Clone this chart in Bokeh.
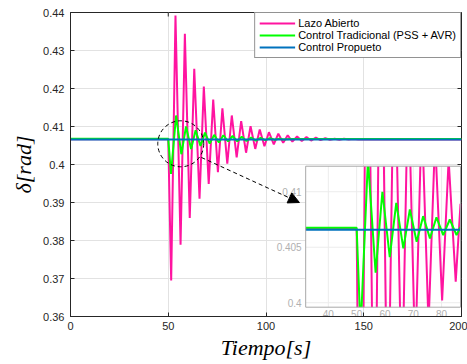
import numpy as np
from bokeh.plotting import figure
from bokeh.models import (Range1d, FixedTicker, Legend, LegendItem, Arrow, NormalHead)
from bokeh.core.properties import value
from bokeh.embed import file_html
from bokeh.resources import INLINE

# ---------------- data ----------------
t_lazo = [0, 50, 51.5, 53.7, 56.3, 58.5, 61.0, 63.3, 66.0, 68.2, 70.7, 73.0, 75.4, 77.7,
          80.2, 82.5, 85.0, 87.3, 89.8, 92.1, 94.5, 96.8, 99.2, 101.5, 104.0, 106.3,
          108.8, 111.1, 113.5, 115.9, 118.3, 120.7, 123.1, 125.5, 127.9, 130.3, 132.7,
          135.1, 137.5, 139.9, 142.3, 144.7, 147.1, 200]
y_lazo = [0.40665, 0.40665, 0.3695, 0.4392, 0.3789, 0.4344, 0.3859, 0.4252, 0.3910, 0.4205,
          0.3949, 0.4171, 0.3980, 0.4148, 0.4002, 0.4129, 0.4019, 0.4114, 0.4031, 0.4101,
          0.4041, 0.4092, 0.4048, 0.4085, 0.4053, 0.4081, 0.4057, 0.4077, 0.4060, 0.4074,
          0.4062, 0.4072, 0.4063, 0.4071, 0.4064, 0.4069, 0.4065, 0.4068, 0.4065, 0.4068,
          0.4066, 0.4067, 0.4066, 0.4066]

t_trad = [0, 50, 51.4, 54.0, 56.7, 59.1, 61.7, 64.0, 66.5, 68.8, 71.2, 73.5, 75.9, 78.2,
          80.6, 82.9, 85.3, 87.6, 90.0, 92.4, 94.8, 97.2, 99.6, 102.0, 104.4, 106.8,
          109.2, 112.0, 200]
y_trad = [0.40675, 0.40675, 0.3975, 0.4129, 0.4027, 0.4100, 0.4041, 0.4090, 0.4049, 0.4084,
          0.4055, 0.4078, 0.4058, 0.4077, 0.4061, 0.4075, 0.4061, 0.4073, 0.4062, 0.4071,
          0.4063, 0.4070, 0.4064, 0.4069, 0.4065, 0.4068, 0.4066, 0.4067, 0.4067]

t_prop = [0, 200]
y_prop = [0.40657, 0.40657]

series_names = ["Lazo Abierto", "Control Tradicional (PSS + AVR)", "Control Propueto"]
series_colors = ["#ff14a0", "#00ff00", "#0072bd"]

x_lim = [0, 200]
y_lim = [0.36, 0.44]
x_ticks = [0, 50, 100, 150, 200]
x_tick_labels = ["0", "50", "100", "150", "200"]
y_ticks = [0.36, 0.37, 0.38, 0.39, 0.40, 0.41, 0.42, 0.43, 0.44]
y_tick_labels = ["0.36", "0.37", "0.38", "0.39", "0.4", "0.41", "0.42", "0.43", "0.44"]

# inset (zoom) axes
inset_x_lim = [32.0, 86.7]
inset_y_lim = [0.3996, 0.4123]
inset_x_ticks = [40, 50, 60, 70, 80]
inset_x_labels = ["40", "50", "60", "70", "80"]
inset_y_ticks = [0.400, 0.405, 0.410]
inset_y_labels = ["0.4", "0.405", "0.41"]

# where the inset box sits, in main-axes coordinates
inset_box_x = [120.3, 199.5]
inset_box_y = [0.36245, 0.39955]

# zoom marker (dashed circle) and arrow, main-axes coordinates
zoom_center = (56.4, 0.40545)
arrow_start = (67.0, 0.40184)
arrow_end = (117.1, 0.3900)

# ---------------- helpers ----------------
def clip_line(xs, ys, x0, x1, y0, y1):
    """Liang-Barsky clip of a polyline to a rectangle; NaN separates pieces."""
    ox, oy = [], []
    last = None
    for i in range(len(xs) - 1):
        ax, ay, bx, by = xs[i], ys[i], xs[i + 1], ys[i + 1]
        dx, dy = bx - ax, by - ay
        u0, u1 = 0.0, 1.0
        ok = True
        for pp, qq in ((-dx, ax - x0), (dx, x1 - ax), (-dy, ay - y0), (dy, y1 - ay)):
            if pp == 0:
                if qq < 0:
                    ok = False
                    break
            else:
                r = qq / pp
                if pp < 0:
                    if r > u1:
                        ok = False
                        break
                    u0 = max(u0, r)
                else:
                    if r < u0:
                        ok = False
                        break
                    u1 = min(u1, r)
        if not ok:
            continue
        sx, sy = ax + u0 * dx, ay + u0 * dy
        ex, ey = ax + u1 * dx, ay + u1 * dy
        if last is not None and abs(last[0] - sx) < 1e-12 and abs(last[1] - sy) < 1e-12:
            ox.append(ex)
            oy.append(ey)
        else:
            if ox:
                ox.append(np.nan)
                oy.append(np.nan)
            ox += [sx, ex]
            oy += [sy, ey]
        last = (ex, ey)
    return ox, oy


def extra_range(main_lo, main_hi, box, lim):
    scale = (box[1] - box[0]) / (lim[1] - lim[0])
    start = lim[0] + (main_lo - box[0]) / scale
    end = lim[0] + (main_hi - box[0]) / scale
    return Range1d(start, end)


# ---------------- figure ----------------
AX = "#262626"
FONT = "Liberation Sans"
p = figure(width=467, height=364, output_backend="svg", toolbar_location=None,
           x_range=Range1d(*x_lim), y_range=Range1d(*y_lim),
           min_border_left=70, min_border_right=6, min_border_top=12, min_border_bottom=48,
           background_fill_color="white", border_fill_color="white")
p.outline_line_color = AX
p.outline_line_width = 1

p.xaxis.ticker = FixedTicker(ticks=x_ticks)
p.yaxis.ticker = FixedTicker(ticks=y_ticks)
p.xaxis.major_label_overrides = {t: l for t, l in zip(x_ticks, x_tick_labels)}
p.yaxis.major_label_overrides = {t: l for t, l in zip(y_ticks, y_tick_labels)}
for ax in (p.xaxis[0], p.yaxis[0]):
    ax.major_tick_in = 4
    ax.major_tick_out = 0
    ax.minor_tick_in = 0
    ax.minor_tick_out = 0
    ax.axis_line_color = AX
    ax.major_tick_line_color = AX
    ax.major_label_text_font = FONT
    ax.major_label_text_font_size = "11px"
    ax.major_label_text_color = AX
    ax.axis_label_text_font = "Liberation Serif"
    ax.axis_label_text_font_style = "italic"
    ax.axis_label_text_font_size = "22px"
    ax.axis_label_text_color = "#000000"
p.xaxis.major_label_standoff = 5
p.yaxis.major_label_standoff = 6
p.xaxis.axis_label = "Tiempo[s]"
p.yaxis.axis_label = "δ[rad]"
p.xaxis.axis_label_standoff = 2
p.yaxis.axis_label_standoff = 4

p.xgrid.grid_line_color = "#e2e2e2"
p.ygrid.grid_line_color = "#e2e2e2"

# inward ticks on the right and top edges (half of each dash is clipped by the frame)
p.scatter([x_lim[1]] * len(y_ticks), y_ticks, marker="dash", size=8,
          line_color=AX, line_width=1)
p.scatter(x_ticks, [y_lim[1]] * len(x_ticks), marker="dash", size=8, angle=np.pi / 2,
          line_color=AX, line_width=1)

# main curves
r_lazo = p.line(t_lazo, y_lazo, line_color=series_colors[0], line_width=2)
r_trad = p.line(t_trad, y_trad, line_color=series_colors[1], line_width=2)
r_prop = p.line(t_prop, y_prop, line_color=series_colors[2], line_width=2)

# dashed circle marking the zoomed region
p.scatter([zoom_center[0]], [zoom_center[1]], marker="circle", size=46,
          fill_alpha=0, line_color="black", line_width=1, line_dash="4 3")

# ---------------- inset ----------------
p.extra_x_ranges = {"ix": extra_range(x_lim[0], x_lim[1], inset_box_x, inset_x_lim)}
p.extra_y_ranges = {"iy": extra_range(y_lim[0], y_lim[1], inset_box_y, inset_y_lim)}
IK = dict(x_range_name="ix", y_range_name="iy")

p.quad(left=[inset_x_lim[0]], right=[inset_x_lim[1]], bottom=[inset_y_lim[0]],
       top=[inset_y_lim[1]], fill_color="white", line_color=None, **IK)
p.segment(x0=inset_x_ticks, x1=inset_x_ticks, y0=[inset_y_lim[0]] * len(inset_x_ticks),
          y1=[inset_y_lim[1]] * len(inset_x_ticks), line_color="#ececec", line_width=1, **IK)
p.segment(x0=[inset_x_lim[0]] * len(inset_y_ticks), x1=[inset_x_lim[1]] * len(inset_y_ticks),
          y0=inset_y_ticks, y1=inset_y_ticks, line_color="#ececec", line_width=1, **IK)

for ts, ys, col in ((t_lazo, y_lazo, series_colors[0]), (t_trad, y_trad, series_colors[1]),
                    (t_prop, y_prop, series_colors[2])):
    cx, cy = clip_line(ts, ys, inset_x_lim[0], inset_x_lim[1], inset_y_lim[0], inset_y_lim[1])
    p.line(cx, cy, line_color=col, line_width=2, **IK)

p.quad(left=[inset_x_lim[0]], right=[inset_x_lim[1]], bottom=[inset_y_lim[0]],
       top=[inset_y_lim[1]], fill_alpha=0, line_color="#a8a8a8", line_width=1, **IK)

p.text(x=inset_x_ticks, y=[inset_y_lim[0]] * len(inset_x_ticks), text=inset_x_labels,
       text_font=value(FONT), text_font_size="10px", text_color="#b0b0b0",
       text_align="center", text_baseline="top", y_offset=3, **IK)
p.text(x=[inset_x_lim[0]] * len(inset_y_ticks), y=inset_y_ticks, text=inset_y_labels,
       text_font=value(FONT), text_font_size="10px", text_color="#b0b0b0",
       text_align="right", text_baseline="middle", x_offset=-4, **IK)

# arrow from circle to inset
p.add_layout(Arrow(x_start=arrow_start[0], y_start=arrow_start[1],
                   x_end=arrow_end[0], y_end=arrow_end[1],
                   line_color="black", line_width=1, line_dash="4 3",
                   end=NormalHead(size=11, fill_color="black", line_color="black", line_width=1)))

# legend
legend = Legend(items=[LegendItem(label=n, renderers=[r]) for n, r in
                       zip(series_names, [r_lazo, r_trad, r_prop])],
                location="top_right", margin=0, padding=4, spacing=0,
                glyph_width=36, glyph_height=12, label_height=12, label_standoff=3,
                label_text_font=FONT, label_text_font_size="11px", label_text_color="#000000",
                border_line_color=AX, border_line_width=1,
                background_fill_color="white", background_fill_alpha=1)
p.add_layout(legend)

open("out.html", "w").write(file_html(p, INLINE))
